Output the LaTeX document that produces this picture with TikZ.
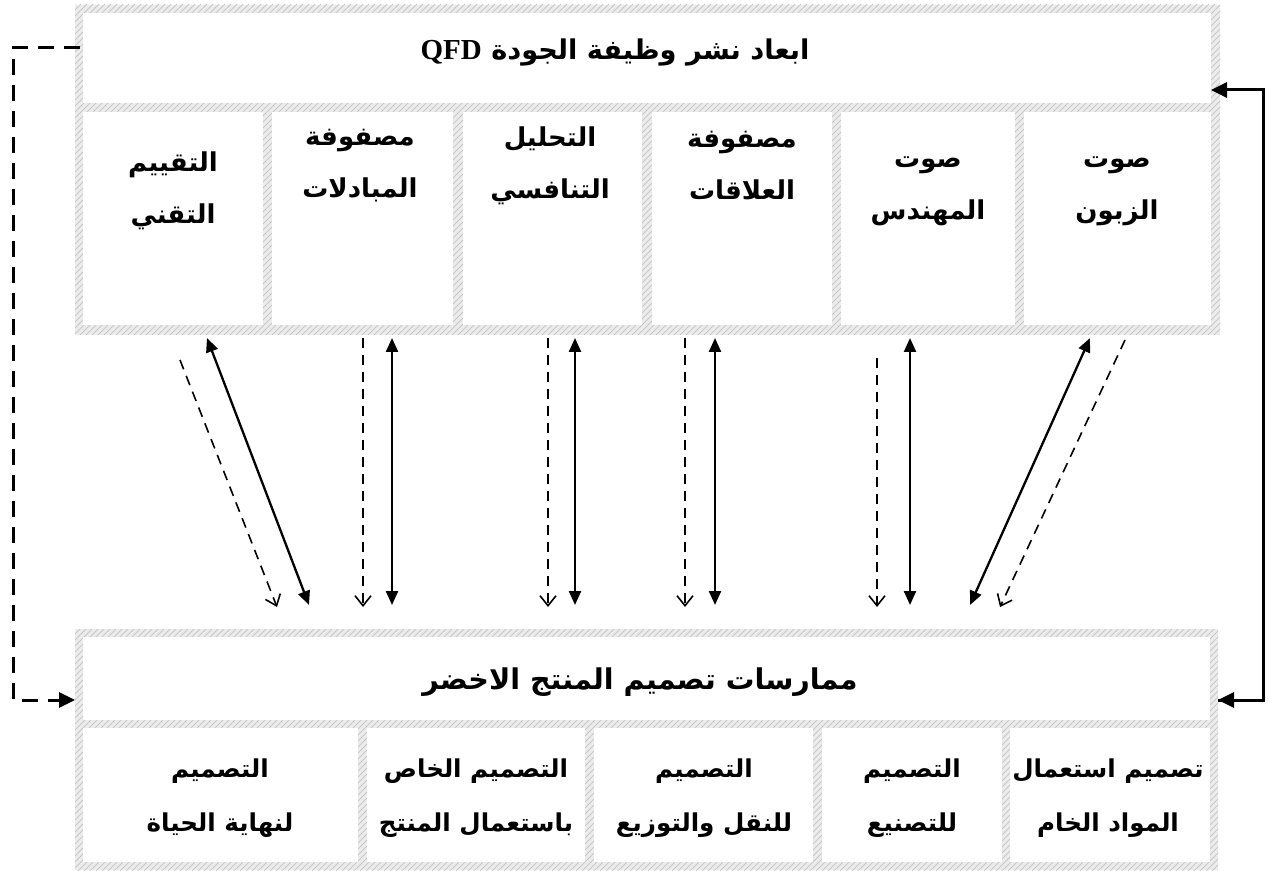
\documentclass[tikz,border=0pt]{standalone}
\usepackage{fontspec}
\setmainfont{Liberation Serif}
\newfontfamily\arabicfont[Script=Arabic]{DejaVu Sans}
\TeXXeTstate=1
\usetikzlibrary{arrows.meta,patterns,fit}
\newcommand{\ar}[1]{\beginR #1\endR}

\tikzset{
  hatch/.style={preaction={fill=gray!15}, pattern=north east lines, pattern color=gray!42},
  cell/.style={fill=white, draw=none, inner sep=0pt},
  lbl/.style={font=\arabicfont\bfseries\fontsize{13}{26}\selectfont, align=center, inner sep=0pt},
  bottomlbl/.style={lbl, font=\arabicfont\bfseries\fontsize{12.3}{27}\selectfont},
  headlbl/.style={lbl, font=\arabicfont\bfseries\fontsize{13.6}{18}\selectfont},
  twoway/.style={{Triangle[length=7pt,width=6pt]}-{Triangle[length=7pt,width=6pt]}, line width=1.15pt},
  oneway/.style={-{Straight Barb[length=5pt,width=8pt]}, dash pattern=on 5pt off 3.5pt, line width=0.8pt},
  backline/.style={line width=1.5pt},
  backtip/.style={-{Triangle[length=8pt,width=7.5pt]}},
}

\begin{document}
\begin{tikzpicture}[x=0.5pt,y=-0.5pt]
\useasboundingbox (0,0) rectangle (1268,871);

%%% QFD block
\fill[hatch] (75,5) rectangle (1220,335);
\node[cell, fit={(83,13) (1211,103)}] (qfd) {};
\foreach \l/\r/\n in {83/263/1, 272/453/2, 463/642/3, 652/832/4, 841/1015/5, 1024/1211/6}
  \node[cell, fit={(\l,112) (\r,325)}] (q\n) {};

\node[headlbl] (qfdtxt) at (615,52)
  {\ar{ابعاد نشر وظيفة الجودة \beginL{\normalfont\bfseries\fontsize{14.5}{18}\selectfont QFD}\endL}};
\node[lbl] (t1) at (173,191) {\ar{التقييم}\\\ar{التقني}};
\node[lbl] (t2) at (360,166) {\ar{مصفوفة}\\\ar{المبادلات}};
\node[lbl] (t3) at (550,166) {\ar{التحليل}\\\ar{التنافسي}};
\node[lbl] (t4) at (742,166) {\ar{مصفوفة}\\\ar{العلاقات}};
\node[lbl] (t5) at (928,191) {\ar{صوت}\\\ar{المهندس}};
\node[lbl] (t6) at (1117,191) {\ar{صوت}\\\ar{الزبون}};

%%% green design block
\fill[hatch] (75,629) rectangle (1218,870);
\node[cell, fit={(83,637) (1210,720)}] (green) {};
\foreach \l/\r/\n in {83/358/1, 367/585/2, 594/813/3, 822/1002/4, 1010/1210/5}
  \node[cell, fit={(\l,728) (\r,862)}] (g\n) {};

\node[headlbl, font=\arabicfont\bfseries\fontsize{14.3}{18}\selectfont] (greentxt) at (640,682)
  {\ar{ممارسات تصميم المنتج الاخضر}};
\node[bottomlbl] (b1) at (220,798) {\ar{التصميم}\\\ar{لنهاية الحياة}};
\node[bottomlbl] (b2) at (476,798) {\ar{التصميم الخاص}\\\ar{باستعمال المنتج}};
\node[bottomlbl] (b3) at (704,798) {\ar{التصميم}\\\ar{للنقل والتوزيع}};
\node[bottomlbl] (b4) at (912,798) {\ar{التصميم}\\\ar{للتصنيع}};
\node[bottomlbl] (b5) at (1108,798) {\ar{تصميم استعمال}\\\ar{المواد الخام}};

%%% links between the two blocks
\foreach \n/\ux/\dx/\sx/\sy/\ex in {1/207/309/180/360/277, 2/392/392/363/338/363, 3/575/575/548/338/548,
                                   4/715/715/685/338/685, 5/910/910/877/358/877, 6/1090/970/1125/340/1000}{
  \coordinate (up\n) at (\ux,338);
  \coordinate (dn\n) at (\dx,605);
  \coordinate (ds\n) at (\sx,\sy);
  \coordinate (de\n) at (\ex,607);
  \draw[twoway] (up\n) -- (dn\n);
  \draw[oneway] (ds\n) -- (de\n);
}

%%% feedback lines
\coordinate (lt) at (80,48);
\coordinate (lb) at (75,700);
\coordinate (rt) at (1211,90);
\coordinate (rb) at (1218,700);
\draw[backline, backtip, dash pattern=on 8pt off 5pt] (lt) -- (13,48) |- (lb);
\draw[backline, backtip] (rb) -- (1263,700) |- (rt);
\draw[backline, backtip] (1263,700) -- (rb);
\end{tikzpicture}
\end{document}
